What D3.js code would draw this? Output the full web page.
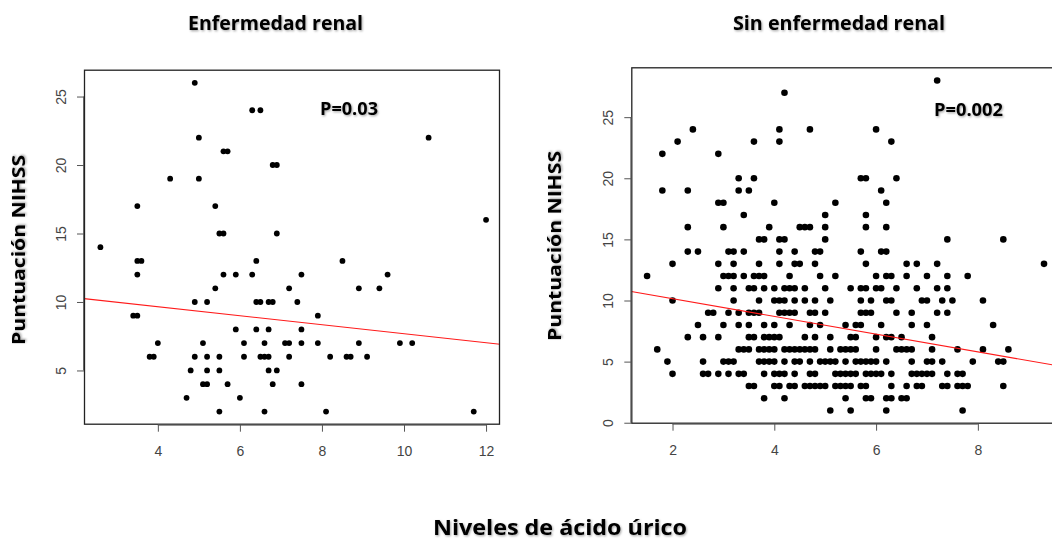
<!DOCTYPE html>
<html>
<head>
<meta charset="utf-8">
<script src="https://cdn.jsdelivr.net/npm/d3@7"></script>
<style>
  html, body { margin: 0; padding: 0; background: #fff; }
  svg { display: block; }
</style>
</head>
<body>
<svg id="chart" width="1052" height="543"></svg>
<script>
// NIHSS score vs. uric acid level, grouped by score: [score, [uric acid values]]
const renalByScore = [
  [26, [4.9]],
  [24, [6.3, 6.5]],
  [22, [5.0, 10.6]],
  [21, [5.6, 5.7]],
  [20, [6.8, 6.9]],
  [19, [4.3, 5.0]],
  [17, [3.5, 5.4]],
  [16, [12.0]],
  [15, [5.5, 5.6, 6.9]],
  [14, [2.6]],
  [13, [3.5, 3.6, 6.4, 8.5]],
  [12, [3.5, 5.6, 5.9, 6.3, 7.5, 9.6]],
  [11, [5.4, 7.2, 8.9, 9.4]],
  [10, [4.9, 5.2, 6.4, 6.5, 6.7, 6.8, 7.4]],
  [9,  [3.4, 3.5, 7.9]],
  [8,  [5.9, 6.4, 6.7, 7.5]],
  [7,  [4.0, 5.1, 6.1, 6.6, 7.1, 7.2, 7.5, 7.9, 8.9, 9.9, 10.2]],
  [6,  [3.8, 3.9, 4.9, 5.2, 5.5, 6.1, 6.5, 6.6, 6.7, 7.2, 8.2, 8.6, 8.7, 9.1]],
  [5,  [4.8, 5.2, 5.5, 6.7, 6.9]],
  [4,  [5.1, 5.2, 5.7, 6.8, 7.5]],
  [3,  [4.7, 6.0]],
  [2,  [5.5, 6.6, 8.1, 11.7]]
];

const noRenalByScore = [
  [28, [7.2]],
  [27, [4.2]],
  [24, [2.4, 4.1, 4.7, 6.0]],
  [23, [2.1, 3.6, 4.1, 6.3]],
  [22, [1.8, 2.9]],
  [20, [3.3, 3.6, 5.7, 5.8, 6.4]],
  [19, [1.8, 2.3, 3.3, 3.5, 6.1]],
  [18, [2.9, 3.0, 4.0, 5.2, 6.2]],
  [17, [3.4, 5.0, 5.8]],
  [16, [2.3, 3.0, 3.9, 4.5, 4.6, 4.7, 5.0, 5.8, 6.2]],
  [15, [3.7, 3.8, 4.1, 4.2, 5.0, 7.4, 8.5]],
  [14, [2.3, 2.5, 3.1, 3.2, 3.4, 4.1, 4.4, 4.8, 4.9, 5.7, 6.1, 6.2]],
  [13, [2.0, 2.9, 3.2, 3.7, 4.1, 4.4, 4.5, 4.8, 5.8, 6.6, 6.8, 7.2, 9.3]],
  [12, [1.5, 3.0, 3.1, 3.2, 3.4, 3.6, 3.7, 3.8, 4.3, 4.9, 5.2, 6.0, 6.2, 6.3, 6.6, 7.0, 7.4, 7.8]],
  [11, [2.9, 3.2, 3.5, 3.6, 3.8, 4.0, 4.2, 4.3, 4.4, 4.6, 5.0, 5.5, 5.7, 5.8, 6.0, 6.1, 6.4, 6.8, 7.2, 7.4]],
  [10, [2.0, 3.2, 3.7, 4.0, 4.1, 4.2, 4.4, 4.6, 4.8, 5.1, 5.7, 5.9, 6.2, 6.3, 6.9, 7.0, 7.3, 7.5, 8.1]],
  [9,  [2.7, 2.8, 3.1, 3.3, 3.5, 3.6, 3.7, 4.1, 4.2, 4.3, 4.4, 4.7, 4.8, 5.0, 5.7, 5.8, 5.9, 6.4, 6.7, 7.2, 7.4]],
  [8,  [2.5, 3.0, 3.3, 3.5, 3.8, 4.0, 4.3, 4.7, 4.9, 5.4, 5.6, 5.7, 6.1, 6.7, 7.0, 8.3]],
  [7,  [2.3, 2.6, 2.9, 3.5, 3.6, 3.8, 3.9, 4.0, 4.1, 4.6, 4.8, 5.1, 5.5, 5.6, 6.0, 6.2, 6.3, 6.5, 7.1]],
  [6,  [1.7, 3.3, 3.4, 3.5, 3.7, 3.8, 3.9, 4.0, 4.2, 4.3, 4.4, 4.5, 4.6, 4.7, 4.8, 5.1, 5.3, 5.4, 5.5, 5.6, 6.0, 6.4, 6.5, 6.6, 6.7, 7.1, 7.6, 8.1, 8.6]],
  [5,  [1.9, 2.6, 3.0, 3.1, 3.2, 3.7, 3.8, 3.9, 4.0, 4.2, 4.4, 4.5, 4.7, 4.9, 5.0, 5.1, 5.2, 5.4, 5.6, 5.7, 5.8, 5.9, 6.0, 6.2, 6.7, 7.0, 7.1, 7.3, 7.9, 8.4, 8.5]],
  [4,  [2.0, 2.6, 2.7, 2.9, 3.1, 3.3, 3.4, 3.8, 4.0, 4.1, 4.2, 4.4, 4.7, 4.8, 5.2, 5.3, 5.4, 5.5, 5.6, 5.8, 5.9, 6.0, 6.1, 6.3, 6.7, 6.8, 6.9, 7.0, 7.1, 7.4, 7.6, 7.7]],
  [3,  [3.5, 3.6, 4.0, 4.1, 4.3, 4.4, 4.6, 4.7, 4.8, 4.9, 5.0, 5.2, 5.3, 5.4, 5.5, 5.7, 5.8, 6.3, 6.6, 6.8, 6.9, 7.3, 7.4, 7.6, 7.7, 7.8, 8.5]],
  [2,  [3.8, 4.2, 5.4, 5.8, 5.9, 6.2, 6.3, 6.5, 6.6]],
  [1,  [5.1, 5.5, 6.2, 7.7]]
];

// Fitted lines: [intercept, slope]
const renalFit = [10.97, -0.3285];
const noRenalFit = [11.6, -0.725];

// Axis ticks
const renalXTicks = [4, 6, 8, 10, 12];
const renalYTicks = [5, 10, 15, 20, 25];
const noRenalXTicks = [2, 4, 6, 8];
const noRenalYTicks = [0, 5, 10, 15, 20, 25];

// Text
const panelTitles = ["Enfermedad renal", "Sin enfermedad renal"];
const pLabels = ["P=0.03", "P=0.002"];
const yTitle = "Puntuación NIHSS";
const xTitle = "Niveles de ácido úrico";

const flatten = rows => rows.flatMap(([score, xs]) => xs.map(x => ({ x, y: score })));

const svg = d3.select("#chart");
svg.append("rect").attr("width", 1052).attr("height", 543).attr("fill", "#fff");

// soft shadow used by the bold annotation text
const defs = svg.append("defs");
const f = defs.append("filter").attr("id", "soft").attr("x", "-10%").attr("y", "-30%")
  .attr("width", "120%").attr("height", "160%");
f.append("feDropShadow").attr("dx", 1).attr("dy", 1.2).attr("stdDeviation", 1)
  .attr("flood-color", "#000").attr("flood-opacity", 0.35);

const boldFont = "'Open Sans', 'Noto Sans', sans-serif";
const tickFont = "'Liberation Sans', Arial, sans-serif";

function panel(cfg) {
  const { x, y, points, fit, xTicks, yTicks, r, id } = cfg;
  const [x0, x1] = x.range();
  const [y0, y1] = y.range(); // bottom, top

  const g = svg.append("g");
  defs.append("clipPath").attr("id", id).append("rect")
    .attr("x", x0).attr("y", y1).attr("width", x1 - x0).attr("height", y0 - y1);

  // points
  g.append("g").selectAll("circle").data(points).join("circle")
    .attr("cx", d => x(d.x)).attr("cy", d => y(d.y)).attr("r", r)
    .attr("fill", "#000");

  // regression line across the plotting region
  const [xa, xb] = x.domain();
  g.append("line").attr("clip-path", `url(#${id})`)
    .attr("x1", x(xa)).attr("y1", y(fit[0] + fit[1] * xa))
    .attr("x2", x(xb)).attr("y2", y(fit[0] + fit[1] * xb))
    .attr("stroke", "#ff1a1a").attr("stroke-width", 1.1);

  // frame
  g.append("rect").attr("x", x0 + 0.5).attr("y", y1 + 0.5)
    .attr("width", x1 - x0 - 1).attr("height", y0 - y1 - 1)
    .attr("fill", "none").attr("stroke", "#222").attr("stroke-width", 1.3);

  // bottom axis
  const xa_ = g.append("g").attr("transform", `translate(0,${y0})`)
    .call(d3.axisBottom(x).tickValues(xTicks).tickSize(7).tickPadding(14).tickFormat(d3.format("d")));
  xa_.select(".domain").attr("stroke", "#666")
    .attr("d", `M${x(xTicks[0])},0.5H${x(xTicks[xTicks.length - 1])}`);
  xa_.selectAll(".tick line").attr("stroke", "#555");
  xa_.selectAll(".tick text").attr("fill", "#444").attr("font-family", tickFont).attr("font-size", 14);

  // left axis with rotated labels
  const ya_ = g.append("g").attr("transform", `translate(${x0},0)`)
    .call(d3.axisLeft(y).tickValues(yTicks).tickSize(7).tickFormat(d3.format("d")));
  ya_.select(".domain").attr("stroke", "#666")
    .attr("d", `M-0.5,${y(yTicks[0])}V${y(yTicks[yTicks.length - 1])}`);
  ya_.selectAll(".tick line").attr("stroke", "#555");
  ya_.selectAll(".tick text").attr("fill", "#444").attr("font-family", tickFont).attr("font-size", 14)
    .attr("x", null).attr("dy", null)
    .attr("text-anchor", "middle")
    .attr("transform", "translate(-18,0) rotate(-90)");
  return g;
}

// Left panel: renal disease
const xL = d3.scaleLinear().domain([2.2, 12.34]).range([84, 500]);
const yL = d3.scaleLinear().domain([1.04, 26.96]).range([424.7, 69.7]);
panel({ x: xL, y: yL, points: flatten(renalByScore), fit: renalFit,
  xTicks: renalXTicks, yTicks: renalYTicks, r: 2.9, id: "clipL" });

// Right panel: no renal disease
const xR = d3.scaleLinear().domain([1.19, 9.61]).range([631.3, 1059.8]);
const yR = d3.scaleLinear().domain([-0.08, 29.08]).range([423.7, 67.3]);
panel({ x: xR, y: yR, points: flatten(noRenalByScore), fit: noRenalFit,
  xTicks: noRenalXTicks, yTicks: noRenalYTicks, r: 3.3, id: "clipR" });

// Titles and annotations
function boldText(txt, x, y, size, len, rotate) {
  const t = svg.append("text")
    .attr("font-family", boldFont).attr("font-weight", 700).attr("font-size", size)
    .attr("fill", "#000").attr("filter", "url(#soft)")
    .attr("text-anchor", "middle")
    .attr("textLength", len).attr("lengthAdjust", "spacingAndGlyphs")
    .text(txt);
  if (rotate) t.attr("transform", `translate(${x},${y}) rotate(-90)`);
  else t.attr("x", x).attr("y", y);
  return t;
}

boldText(panelTitles[0], 275.5, 30, 19, 175);
boldText(panelTitles[1], 839, 30, 19, 212);
boldText(pLabels[0], 349, 115, 17, 58);
boldText(pLabels[1], 968.5, 116, 17, 69);
boldText(yTitle, 25, 250, 17.5, 190, true);
boldText(yTitle, 561, 246, 17.5, 190, true);
boldText(xTitle, 560, 535, 21.5, 254);
</script>
</body>
</html>
